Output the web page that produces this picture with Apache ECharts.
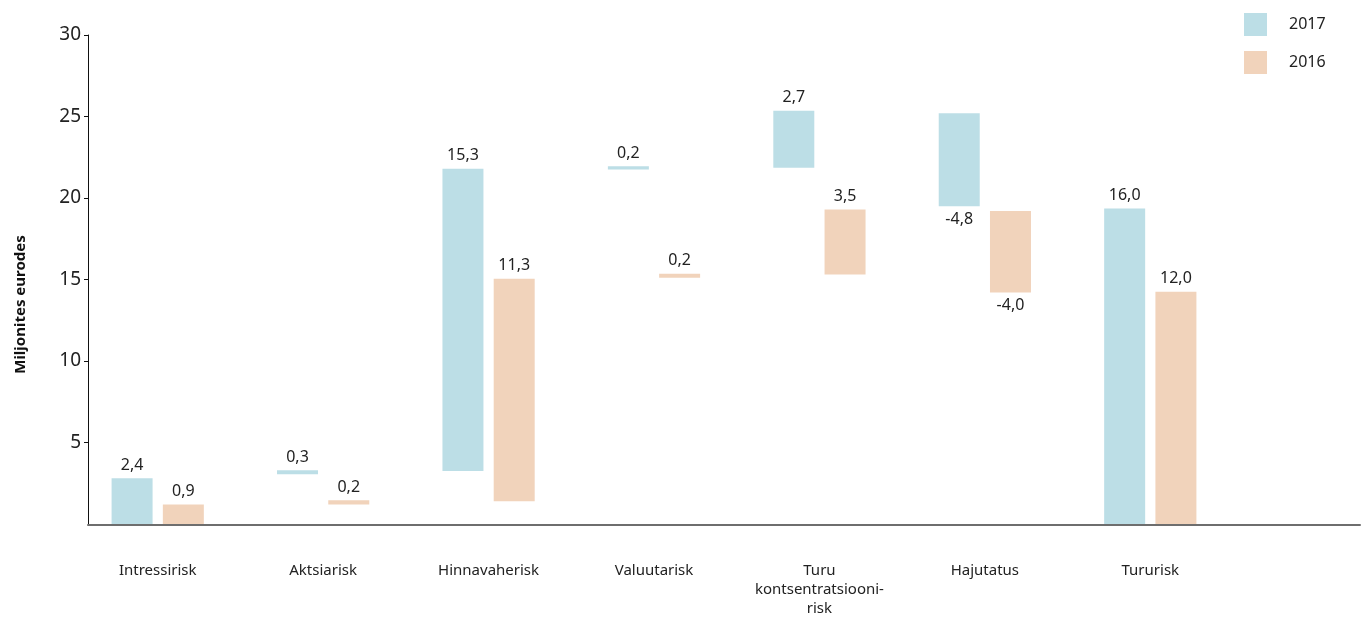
<!DOCTYPE html>
<html>
<head>
<meta charset="utf-8">
<script src="https://cdn.jsdelivr.net/npm/echarts@6/dist/echarts.min.js"></script>
<style>html,body{margin:0;padding:0;background:#fff}#c{width:1362px;height:618px}</style>
</head>
<body>
<div id="c"></div>
<script>
var categories = ['Intressirisk', 'Aktsiarisk', 'Hinnavaherisk', 'Valuutarisk', 'Turu\nkontsentratsiooni-\nrisk', 'Hajutatus', 'Tururisk'];
var base2017 = [0, 3.05, 3.25, 21.75, 21.85, 19.5, 0];
var top2017 = [2.8, 3.3, 21.8, 21.95, 25.35, 25.2, 19.35];
var base2016 = [0, 1.2, 1.4, 15.1, 15.3, 14.2, 0];
var top2016 = [1.2, 1.45, 15.05, 15.35, 19.3, 19.2, 14.25];
var labels2017 = ['2,4', '0,3', '15,3', '0,2', '2,7', '-4,8', '16,0'];
var labels2016 = ['0,9', '0,2', '11,3', '0,2', '3,5', '-4,0', '12,0'];
var yTicks = [0, 5, 10, 15, 20, 25, 30];

var FONT = 'Noto Sans';
var BLUE = '#BCDEE6';
var PEACH = '#F1D3BB';

function visible(base, top, labels) {
  return top.map(function (t, i) {
    var neg = labels[i].charAt(0) === '-';
    return {
      value: +(t - base[i]).toFixed(3),
      label: { position: neg ? 'bottom' : 'top' }
    };
  });
}

var chart = echarts.init(document.getElementById('c'), null, { renderer: 'canvas' });
chart.setOption({
  animation: false,
  backgroundColor: '#fff',
  grid: [
    { left: 75, right: 129, top: 35, bottom: 93.4, containLabel: false },
    { left: 88, right: 2, top: 35, bottom: 93.4, containLabel: false }
  ],
  legend: {
    orient: 'vertical',
    left: 1244,
    top: 13,
    padding: 0,
    itemWidth: 23,
    itemHeight: 23,
    itemGap: 15,
    icon: 'rect',
    data: ['2017', '2016'],
    textStyle: { fontFamily: FONT, fontSize: 16, color: '#222', padding: [0, 0, 0, 17] }
  },
  xAxis: [
    {
      type: 'category',
      gridIndex: 0,
      data: categories,
      axisLine: { show: false },
      axisTick: { show: false },
      axisLabel: { margin: 37, fontFamily: FONT, fontSize: 15, color: '#222', lineHeight: 19, interval: 0, verticalAlign: 'top' }
    },
    {
      type: 'value',
      gridIndex: 1,
      min: 0, max: 1,
      axisLine: { show: true, lineStyle: { color: '#6e6e6e', width: 2 } },
      axisTick: { show: false },
      axisLabel: { show: false },
      splitLine: { show: false }
    }
  ],
  yAxis: [
    {
      type: 'value',
      gridIndex: 0,
      min: yTicks[0],
      max: yTicks[yTicks.length - 1],
      interval: yTicks[1] - yTicks[0],
      offset: -13,
      name: 'Miljonites eurodes',
      nameLocation: 'middle',
      nameGap: 60,
      nameTextStyle: { fontFamily: FONT, fontSize: 15, fontWeight: 'bold', color: '#111', padding: [0, 50, 0, 0] },
      axisLine: { show: true, lineStyle: { color: '#111', width: 1 } },
      axisTick: { show: true, length: 4, lineStyle: { color: '#111' } },
      axisLabel: { showMinLabel: false, margin: 7, fontFamily: FONT, fontSize: 19, color: '#222' },
      splitLine: { show: false }
    },
    {
      type: 'value',
      gridIndex: 1,
      min: 0, max: 30,
      show: false
    }
  ],
  series: [
    {
      name: 'base2017', type: 'bar', stack: 's2017', xAxisIndex: 0, yAxisIndex: 0,
      barWidth: 41, barGap: '25%',
      itemStyle: { color: 'rgba(0,0,0,0)' },
      emphasis: { disabled: true },
      data: base2017
    },
    {
      name: '2017', type: 'bar', stack: 's2017', xAxisIndex: 0, yAxisIndex: 0,
      barWidth: 41, barGap: '25%',
      itemStyle: { color: BLUE },
      label: {
        show: true, distance: 5, fontFamily: FONT, fontSize: 16, color: '#222',
        formatter: function (p) { return labels2017[p.dataIndex]; }
      },
      data: visible(base2017, top2017, labels2017)
    },
    {
      name: 'base2016', type: 'bar', stack: 's2016', xAxisIndex: 0, yAxisIndex: 0,
      barWidth: 41, barGap: '25%',
      itemStyle: { color: 'rgba(0,0,0,0)' },
      emphasis: { disabled: true },
      data: base2016
    },
    {
      name: '2016', type: 'bar', stack: 's2016', xAxisIndex: 0, yAxisIndex: 0,
      barWidth: 41, barGap: '25%',
      itemStyle: { color: PEACH },
      label: {
        show: true, distance: 5, fontFamily: FONT, fontSize: 16, color: '#222',
        formatter: function (p) { return labels2016[p.dataIndex]; }
      },
      data: visible(base2016, top2016, labels2016)
    }
  ]
});
</script>
</body>
</html>
